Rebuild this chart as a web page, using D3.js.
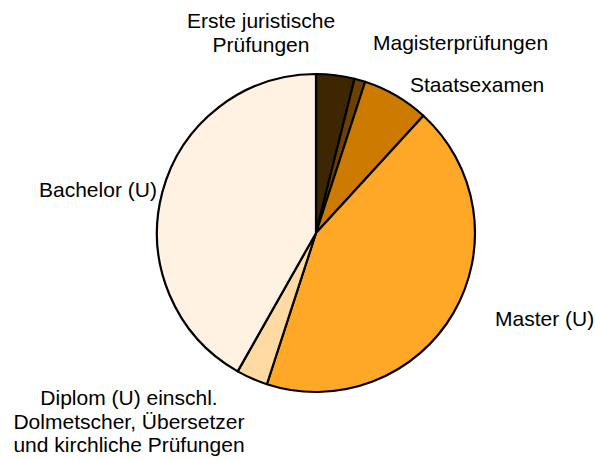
<!DOCTYPE html>
<html>
<head>
<meta charset="utf-8">
<script src="https://cdn.jsdelivr.net/npm/d3@7"></script>
<style>
  body { margin: 0; background: #fff; }
  svg text { font-family: "Liberation Sans", Arial, sans-serif; font-size: 21px; fill: #000; }
</style>
</head>
<body>
<div id="chart"></div>
<script>
// Slices clockwise from 12 o'clock
const categories = [
  "Erste juristische Prüfungen",
  "Magisterprüfungen",
  "Staatsexamen",
  "Master (U)",
  "Diplom (U) einschl. Dolmetscher, Übersetzer und kirchliche Prüfungen",
  "Bachelor (U)"
];
const shares = [3.9, 1.1, 6.8, 43.2, 3.2, 41.8];
const sliceColors = ["#3d2600", "#6e4000", "#cc7a00", "#ffa726", "#ffdba3", "#fff2e2"];

// label lines and anchor per slice
const labelLines = [
  ["Erste juristische", "Prüfungen"],
  ["Magisterprüfungen"],
  ["Staatsexamen"],
  ["Master (U)"],
  ["Diplom (U) einschl.", "Dolmetscher, Übersetzer", "und kirchliche Prüfungen"],
  ["Bachelor (U)"]
];
const labelPos = [
  { x: 261, y: 28, anchor: "middle" },
  { x: 373, y: 50, anchor: "start" },
  { x: 410, y: 92, anchor: "start" },
  { x: 495, y: 326, anchor: "start" },
  { x: 129, y: 405, anchor: "middle" },
  { x: 39, y: 197, anchor: "start" }
];

const width = 595, height = 459;
const center = { x: 316, y: 233 };
const radius = 159;

const svg = d3.select("#chart")
  .append("svg")
  .attr("width", width)
  .attr("height", height);

const color = d3.scaleOrdinal().domain(categories).range(sliceColors);

const pie = d3.pie().sort(null).value((d) => d.value);
const arcs = pie(categories.map((c, i) => ({ name: c, value: shares[i] })));
const arc = d3.arc().innerRadius(0).outerRadius(radius);

const g = svg.append("g")
  .attr("transform", `translate(${center.x}, ${center.y})`);

g.selectAll("path")
  .data(arcs)
  .join("path")
  .attr("d", arc)
  .attr("fill", (d) => color(d.data.name))
  .attr("stroke", "#000")
  .attr("stroke-width", 2.2)
  .attr("stroke-linejoin", "round");

// Labels
const labels = svg.selectAll(".label")
  .data(labelLines)
  .join("text")
  .attr("class", "label")
  .attr("x", (d, i) => labelPos[i].x)
  .attr("y", (d, i) => labelPos[i].y)
  .attr("text-anchor", (d, i) => labelPos[i].anchor);

labels.selectAll("tspan")
  .data((d, i) => d.map((line, j) => ({ line, j, i })))
  .join("tspan")
  .attr("x", (d) => labelPos[d.i].x)
  .attr("dy", (d) => (d.j === 0 ? 0 : 23.5))
  .text((d) => d.line);
</script>
</body>
</html>
